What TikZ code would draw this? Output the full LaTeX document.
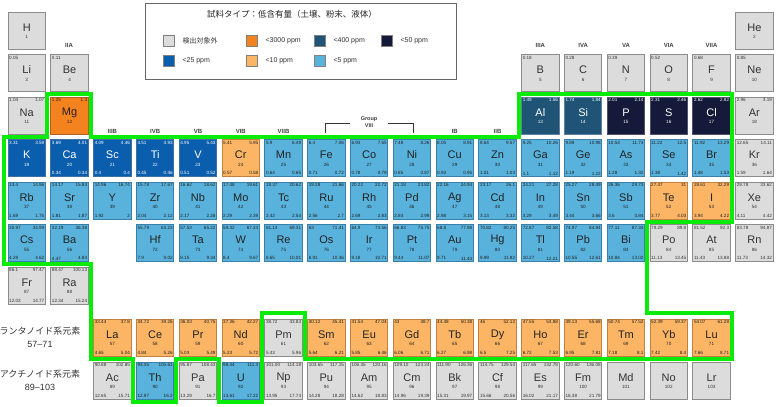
\documentclass[tikz,border=0pt]{standalone}
\usepackage{fontspec}
\setmainfont{Liberation Sans}
\newfontfamily\jp{Noto Sans CJK JP}
\definecolor{fgr}{HTML}{DCDCDC}\definecolor{dgr}{HTML}{8C8C8C}\definecolor{tgr}{HTML}{333333}
\definecolor{for}{HTML}{F4821E}\definecolor{dor}{HTML}{B06020}\definecolor{tor}{HTML}{222222}
\definecolor{flo}{HTML}{FBB565}\definecolor{dlo}{HTML}{C08040}\definecolor{tlo}{HTML}{222222}
\definecolor{fte}{HTML}{1F5477}\definecolor{dte}{HTML}{6080A0}\definecolor{tte}{HTML}{FFFFFF}
\definecolor{fnv}{HTML}{161A3A}\definecolor{dnv}{HTML}{505070}\definecolor{tnv}{HTML}{FFFFFF}
\definecolor{fbl}{HTML}{0B5EAE}\definecolor{dbl}{HTML}{4070A0}\definecolor{tbl}{HTML}{FFFFFF}
\definecolor{flb}{HTML}{58B2DC}\definecolor{dlb}{HTML}{3A7FA8}\definecolor{tlb}{HTML}{222222}
\definecolor{grn}{RGB}{10,235,10}
\tikzset{
 cellbox/.style={minimum width=37.5pt,minimum height=37pt,inner sep=0pt,line width=1pt},
 sym/.style={font=\fontsize{11}{11}\selectfont,inner sep=0pt},
 tiny/.style={font=\fontsize{4.6}{5}\selectfont,inner sep=0pt},
 grp/.style={font=\bfseries\fontsize{6}{6}\selectfont,text=black!75},
 leg/.style={font=\fontsize{7}{7}\selectfont,anchor=west,text=black!80},
 sw/.style={minimum size=11pt,inner sep=0pt,draw=black!50}
}
\newcommand\el[9]{%
 \pgfmathsetmacro\xl{8+42.8*(#1-1)+18.75}%
 \begin{scope}[every node/.append style={text=t#5}]
 \node[cellbox,fill=f#5,draw=d#5] (c#4) at (\xl,#2+18.5) {};
 \node[sym] (s#4) at ([yshift=3pt]c#4.center) {#3};
 \node[tiny] (z#4) at ([yshift=-6.5pt]c#4.center) {#4};
 \node[tiny,anchor=north west] (a#4) at ([shift={(1.5pt,-1.8pt)}]c#4.north west) {#6};
 \node[tiny,anchor=north east] (b#4) at ([shift={(-1.5pt,-1.8pt)}]c#4.north east) {#7};
 \node[tiny,anchor=south west] (d#4) at ([shift={(1.5pt,1.8pt)}]c#4.south west) {#8};
 \node[tiny,anchor=south east] (e#4) at ([shift={(-1.5pt,1.8pt)}]c#4.south east) {#9};
 \end{scope}}
\begin{document}
\begin{tikzpicture}[x=1pt,y=-1pt]
\useasboundingbox[fill=white] (0,0) rectangle (780,407);
\def\ra{12}\def\rb{54.5}\def\rc{97}\def\rd{139.5}\def\re{182}\def\rf{224.5}\def\rg{267}\def\rl{319}\def\rac{362}
% row 1-3
\el{1}{\ra}{H}{1}{gr}{}{}{}{}
\el{18}{\ra}{He}{2}{gr}{}{}{}{}
\el{1}{\rb}{Li}{3}{gr}{0.05}{}{}{}
\el{2}{\rb}{Be}{4}{gr}{0.11}{}{}{}
\el{13}{\rb}{B}{5}{gr}{0.18}{}{}{}
\el{14}{\rb}{C}{6}{gr}{0.28}{}{}{}
\el{15}{\rb}{N}{7}{gr}{0.39}{}{}{}
\el{16}{\rb}{O}{8}{gr}{0.52}{}{}{}
\el{17}{\rb}{F}{9}{gr}{0.68}{}{}{}
\el{18}{\rb}{Ne}{10}{gr}{0.85}{}{}{}
\el{1}{\rc}{Na}{11}{gr}{1.04}{1.07}{}{}
\el{2}{\rc}{Mg}{12}{or}{1.25}{1.3}{}{}
\el{13}{\rc}{Al}{13}{te}{1.49}{1.56}{}{}
\el{14}{\rc}{Si}{14}{te}{1.74}{1.84}{}{}
\el{15}{\rc}{P}{15}{nv}{2.01}{2.14}{}{}
\el{16}{\rc}{S}{16}{nv}{2.31}{2.46}{}{}
\el{17}{\rc}{Cl}{17}{nv}{2.62}{2.82}{}{}
\el{18}{\rc}{Ar}{18}{gr}{2.96}{3.19}{}{}
% row 4
\el{1}{\rd}{K}{19}{bl}{3.31}{3.59}{}{}
\el{2}{\rd}{Ca}{20}{bl}{3.69}{4.01}{0.34}{0.34}
\el{3}{\rd}{Sc}{21}{bl}{4.09}{4.46}{0.4}{0.4}
\el{4}{\rd}{Ti}{22}{bl}{4.51}{4.93}{0.45}{0.46}
\el{5}{\rd}{V}{23}{bl}{4.95}{5.43}{0.51}{0.52}
\el{6}{\rd}{Cr}{24}{lo}{5.41}{5.95}{0.57}{0.58}
\el{7}{\rd}{Mn}{25}{lb}{5.9}{6.49}{0.64}{0.65}
\el{8}{\rd}{Fe}{26}{lb}{6.4}{7.06}{0.71}{0.72}
\el{9}{\rd}{Co}{27}{lb}{6.93}{7.65}{0.78}{0.79}
\el{10}{\rd}{Ni}{28}{lb}{7.48}{8.26}{0.85}{0.87}
\el{11}{\rd}{Cu}{29}{lb}{8.05}{8.91}{0.93}{0.95}
\el{12}{\rd}{Zn}{30}{lb}{8.64}{9.57}{1.01}{1.03}
\el{13}{\rd}{Ga}{31}{lb}{9.25}{10.26}{1.1}{1.12}
\el{14}{\rd}{Ge}{32}{lb}{9.89}{10.98}{1.19}{1.22}
\el{15}{\rd}{As}{33}{lb}{10.54}{11.73}{1.28}{1.32}
\el{16}{\rd}{Se}{34}{lb}{11.22}{12.5}{1.38}{1.42}
\el{17}{\rd}{Br}{35}{lb}{11.92}{13.29}{1.48}{1.53}
\el{18}{\rd}{Kr}{36}{gr}{12.65}{14.11}{1.59}{1.64}
% row 5
\el{1}{\re}{Rb}{37}{lb}{13.4}{14.96}{1.69}{1.75}
\el{2}{\re}{Sr}{38}{lb}{14.17}{15.84}{1.81}{1.87}
\el{3}{\re}{Y}{39}{lb}{14.96}{16.74}{1.92}{2}
\el{4}{\re}{Zr}{40}{lb}{15.78}{17.67}{2.04}{2.12}
\el{5}{\re}{Nb}{41}{lb}{16.62}{18.62}{2.17}{2.26}
\el{6}{\re}{Mo}{42}{lb}{17.48}{19.61}{2.29}{2.39}
\el{7}{\re}{Tc}{43}{lb}{18.37}{20.62}{2.42}{2.54}
\el{8}{\re}{Ru}{44}{lb}{19.28}{21.66}{2.56}{2.7}
\el{9}{\re}{Rh}{45}{lb}{20.22}{22.72}{2.69}{2.83}
\el{10}{\re}{Pd}{46}{lb}{21.18}{23.82}{2.84}{2.99}
\el{11}{\re}{Ag}{47}{lb}{22.16}{24.94}{2.98}{3.15}
\el{12}{\re}{Cd}{48}{lb}{23.17}{26.1}{3.13}{3.32}
\el{13}{\re}{In}{49}{lb}{24.21}{27.28}{3.29}{3.49}
\el{14}{\re}{Sn}{50}{lb}{25.27}{28.49}{3.44}{3.66}
\el{15}{\re}{Sb}{51}{lb}{26.36}{29.73}{3.6}{3.84}
\el{16}{\re}{Te}{52}{lo}{27.47}{31}{3.77}{4.03}
\el{17}{\re}{I}{53}{lo}{28.61}{32.29}{3.94}{4.22}
\el{18}{\re}{Xe}{54}{gr}{29.78}{33.62}{4.11}{4.42}
% row 6
\el{1}{\rf}{Cs}{55}{lb}{30.97}{34.99}{4.29}{4.62}
\el{2}{\rf}{Ba}{56}{lb}{32.19}{36.38}{4.47}{4.83}
\el{4}{\rf}{Hf}{72}{lb}{55.79}{63.23}{7.9}{9.02}
\el{5}{\rf}{Ta}{73}{lb}{57.53}{65.22}{8.15}{9.34}
\el{6}{\rf}{W}{74}{lb}{59.32}{67.24}{8.4}{9.67}
\el{7}{\rf}{Re}{75}{lb}{61.14}{69.31}{8.65}{10.01}
\el{8}{\rf}{Os}{76}{lb}{63}{71.41}{8.91}{10.36}
\el{9}{\rf}{Ir}{77}{lb}{64.9}{73.56}{9.18}{10.71}
\el{10}{\rf}{Pt}{78}{lb}{66.83}{75.75}{9.44}{11.07}
\el{11}{\rf}{Au}{79}{lb}{68.8}{77.98}{9.71}{11.44}
\el{12}{\rf}{Hg}{80}{lb}{70.82}{80.25}{9.99}{11.82}
\el{13}{\rf}{Tl}{81}{lb}{72.87}{82.58}{10.27}{12.21}
\el{14}{\rf}{Pb}{82}{lb}{74.97}{84.94}{10.55}{12.61}
\el{15}{\rf}{Bi}{83}{lb}{77.11}{87.34}{10.84}{13.02}
\el{16}{\rf}{Po}{84}{gr}{79.29}{89.8}{11.13}{13.45}
\el{17}{\rf}{At}{85}{gr}{81.52}{92.3}{11.43}{13.88}
\el{18}{\rf}{Rn}{86}{gr}{83.78}{94.87}{11.73}{14.32}
% row 7
\el{1}{\rg}{Fr}{87}{gr}{86.1}{97.47}{12.03}{14.77}
\el{2}{\rg}{Ra}{88}{gr}{88.47}{100.13}{12.34}{15.24}
% lanthanides
\el{3}{\rl}{La}{57}{lo}{33.44}{37.8}{4.65}{5.04}
\el{4}{\rl}{Ce}{58}{lo}{34.72}{39.26}{4.84}{5.26}
\el{5}{\rl}{Pr}{59}{lo}{36.03}{40.75}{5.03}{5.49}
\el{6}{\rl}{Nd}{60}{lo}{37.36}{42.27}{5.23}{5.72}
\el{7}{\rl}{Pm}{61}{gr}{38.72}{43.83}{5.43}{5.96}
\el{8}{\rl}{Sm}{62}{lo}{40.12}{45.41}{5.64}{6.21}
\el{9}{\rl}{Eu}{63}{lo}{41.54}{47.04}{5.85}{6.46}
\el{10}{\rl}{Gd}{64}{lo}{43}{48.7}{6.06}{6.71}
\el{11}{\rl}{Tb}{65}{lo}{44.48}{50.38}{6.27}{6.98}
\el{12}{\rl}{Dy}{66}{lo}{46}{52.12}{6.5}{7.25}
\el{13}{\rl}{Ho}{67}{lo}{47.55}{53.88}{6.72}{7.53}
\el{14}{\rl}{Er}{68}{lo}{49.13}{55.68}{6.95}{7.81}
\el{15}{\rl}{Tm}{69}{lo}{50.74}{57.52}{7.18}{8.1}
\el{16}{\rl}{Yb}{70}{lo}{52.39}{59.37}{7.42}{8.4}
\el{17}{\rl}{Lu}{71}{lo}{54.07}{61.28}{7.66}{8.71}
% actinides
\el{3}{\rac}{Ac}{89}{gr}{90.88}{102.85}{12.65}{15.71}
\el{4}{\rac}{Th}{90}{lb}{93.35}{105.61}{12.97}{16.2}
\el{5}{\rac}{Pa}{91}{gr}{95.87}{108.43}{13.29}{16.7}
\el{6}{\rac}{U}{92}{lb}{98.44}{111.3}{13.61}{17.22}
\el{7}{\rac}{Np}{93}{gr}{101.00}{114.18}{13.95}{17.74}
\el{8}{\rac}{Pu}{94}{gr}{103.65}{117.15}{14.28}{18.28}
\el{9}{\rac}{Am}{95}{gr}{106.35}{120.16}{14.62}{18.83}
\el{10}{\rac}{Cm}{96}{gr}{109.10}{123.24}{14.96}{19.39}
\el{11}{\rac}{Bk}{97}{gr}{111.90}{126.36}{15.31}{19.97}
\el{12}{\rac}{Cf}{98}{gr}{114.75}{129.54}{15.66}{20.56}
\el{13}{\rac}{Es}{99}{gr}{117.65}{132.78}{16.02}{21.17}
\el{14}{\rac}{Fm}{100}{gr}{120.60}{136.08}{16.38}{21.79}
\el{15}{\rac}{Md}{101}{gr}{}{}{}{}
\el{16}{\rac}{No}{102}{gr}{}{}{}{}
\el{17}{\rac}{Lr}{103}{gr}{}{}{}{}
% green outline
\draw[grn,line width=4pt,line join=miter] (4,136.5)--(47,136.5)--(47,94)--(91,94)--(91,136.5)--(519,136.5)--(519,94)--(732,94)--(732,222)--(647,222)--(647,313)--(732,313)--(732,359)--(305,359)--(305,313)--(262,313)--(262,402)--(219,402)--(219,359)--(176,359)--(176,402)--(133,402)--(133,359)--(91,359)--(91,264)--(4,264)--cycle;
% group labels
\node[grp] (gIIA) at (69,45) {IIA};
\foreach \c/\t in {3/IIIB,4/IVB,5/VB,6/VIB,7/VIIB,11/IB,12/IIB}
  \node[grp] (g\t) at ({8+42.8*(\c-1)+18.75},131) {\t};
\foreach \c/\t in {13/IIIA,14/IVA,15/VA,16/VIA,17/VIIA}
  \node[grp] (g\t) at ({8+42.8*(\c-1)+18.75},45) {\t};
\node[grp,align=center,font=\bfseries\fontsize{5.5}{6.5}\selectfont] (gVIII) at (369,122) {Group\\VIII};
\draw[black!80,line width=0.9pt] (325,133)--(325,123)--(350,123);
\draw[black!80,line width=0.9pt] (388,123)--(413,123)--(413,133);
% series labels
\node[font=\jp\fontsize{9}{9}\selectfont,text=black!80] (lan) at (40,331) {ランタノイド系元素};
\node[font=\fontsize{9}{9}\selectfont,text=black!80] (lann) at (40,344) {57–71};
\node[font=\jp\fontsize{9}{9}\selectfont,text=black!80] (act) at (40,374) {アクチノイド系元素};
\node[font=\fontsize{9}{9}\selectfont,text=black!80] (actn) at (40,387) {89–103};
% legend
\node[draw=black!60,line width=0.8pt,minimum width=311pt,minimum height=76pt,anchor=north west] (legbox) at (145,3) {};
\node[font=\jp\fontsize{8.5}{9}\selectfont,text=black!85] (legt) at (292,14) {試料タイプ：低含有量（土壌、粉末、液体）};
\node[sw,fill=fgr] (s1) at (169,41) {}; \node[leg,font=\jp\fontsize{7}{7}\selectfont] (l1) at (179,41) {検出対象外};
\node[sw,fill=for] (s2) at (252,41) {}; \node[leg] (l2) at (262,41) {<3000 ppm};
\node[sw,fill=fte] (s3) at (320,41) {}; \node[leg] (l3) at (330,41) {<400 ppm};
\node[sw,fill=fnv] (s4) at (387,41) {}; \node[leg] (l4) at (397,41) {<50 ppm};
\node[sw,fill=fbl] (s5) at (169,61) {}; \node[leg] (l5) at (179,61) {<25 ppm};
\node[sw,fill=flo] (s6) at (252,61) {}; \node[leg] (l6) at (262,61) {<10 ppm};
\node[sw,fill=flb] (s7) at (320,61) {}; \node[leg] (l7) at (330,61) {<5 ppm};
\end{tikzpicture}
\end{document}
